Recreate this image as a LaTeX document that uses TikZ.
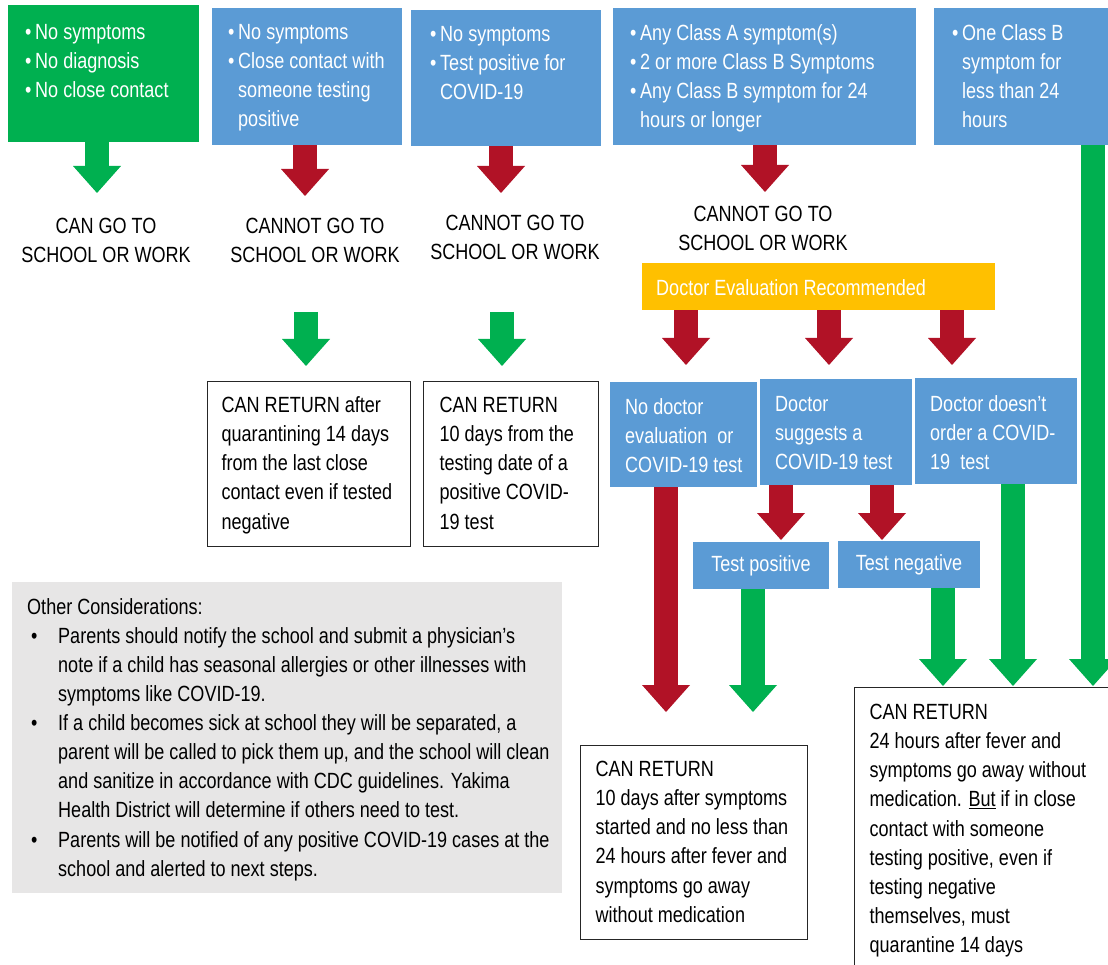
\documentclass[tikz,border=0pt]{standalone}
\usepackage{fontspec}
\setmainfont[FakeStretch=0.82]{Liberation Sans}
\usetikzlibrary{arrows.meta}

\definecolor{cblue}{HTML}{5B9BD5}
\definecolor{cgreen}{HTML}{00B050}
\definecolor{cred}{HTML}{B11226}
\definecolor{cyellow}{HTML}{FFC000}
\definecolor{cgray}{HTML}{E7E6E6}

\newcommand\mainfs{\fontsize{22}{29.1}\selectfont}
% width, height, top pad, left pad, lines
\newcommand\boxtxt[5]{\parbox[c][#2][t]{#1}{\vspace*{#3}\raggedright\setlength{\leftskip}{#4}\noindent\rule{0pt}{16pt}#5\par}}
\newcommand\bul{\makebox[10pt][l]{•}}
\newcommand\bulind{\hspace*{10pt}}
\newcommand\notebul{\makebox[31pt][l]{\hspace{4pt}•}}
\newcommand\noteind{\hspace*{31pt}}

\begin{document}
\begin{tikzpicture}
[
x=1pt, y=-1pt,
bluebox/.style={fill=cblue, text=white, inner sep=0pt, anchor=north west, font=\mainfs},
greenbox/.style={bluebox, fill=cgreen},
barbox/.style={bluebox, fill=cyellow},
testbox/.style={fill=cblue, text=white, inner sep=0pt, font=\mainfs},
returnbox/.style={draw=black!85, line width=1.3pt, fill=white, inner sep=0pt, anchor=north west, font=\mainfs},
notebox/.style={fill=cgray, inner sep=0pt, anchor=north west, font=\mainfs},
statustext/.style={align=center, inner sep=0pt, font=\mainfs},
greenarrow/.style={draw=cgreen, line width=24pt, -{Triangle[width=48pt, length=27pt, line width=0pt]}},
redarrow/.style={greenarrow, draw=cred},
]
\useasboundingbox (0,0) rectangle (1108,965);
\clip (0,0) rectangle (1108,965);

%Nodes
\node[greenbox] (nosym) at (8,5) {\boxtxt{191pt}{137pt}{18pt}{17pt}{\bul No symptoms\\\bul No diagnosis\\\bul No close contact}};
\node[bluebox] (contact) at (212,8) {\boxtxt{190pt}{137pt}{15pt}{16pt}{\bul No symptoms\\\bul Close contact with\\\bulind someone testing\\\bulind positive}};
\node[bluebox] (positive) at (411,10) {\boxtxt{190pt}{136pt}{15pt}{19pt}{\bul No symptoms\\\bul Test positive for\\\bulind COVID-19}};
\node[bluebox] (classa) at (613,8) {\boxtxt{303pt}{137pt}{16pt}{17pt}{\bul Any Class A symptom(s)\\\bul 2 or more Class B Symptoms\\\bul Any Class B symptom for 24\\\bulind hours or longer}};
\node[bluebox] (classb) at (934,8) {\boxtxt{180pt}{137pt}{16pt}{18pt}{\bul One Class B\\\bulind symptom for\\\bulind less than 24\\\bulind hours}};

\node[statustext] (cango) at (106,240.5) {CAN GO TO\\SCHOOL OR WORK};
\node[statustext] (cannot1) at (315,240.5) {CANNOT GO TO\\SCHOOL OR WORK};
\node[statustext] (cannot2) at (515,237) {CANNOT GO TO\\SCHOOL OR WORK};
\node[statustext] (cannot3) at (763,228) {CANNOT GO TO\\SCHOOL OR WORK};

\node[barbox] (docbar) at (642,263) {\boxtxt{353pt}{47pt}{16pt}{14pt}{Doctor Evaluation Recommended}};

\node[bluebox] (nodoc) at (610,382) {\boxtxt{147pt}{105pt}{16pt}{15pt}{No doctor\\evaluation\ \ or\\COVID-19 test}};
\node[bluebox] (docsug) at (760,379) {\boxtxt{152pt}{106pt}{16pt}{15pt}{Doctor\\suggests a\\COVID-19 test}};
\node[bluebox] (docno) at (915,378) {\boxtxt{162pt}{106pt}{17pt}{15pt}{Doctor doesn’t\\order a COVID-\\19\ \ test}};

\node[testbox, minimum width=136pt, minimum height=47pt] (testpos) at (761,565.5) {Test positive};
\node[testbox, minimum width=142pt, minimum height=47pt] (testneg) at (909,564.5) {Test negative};

\node[returnbox] (quar) at (207,381) {\boxtxt{203pt}{165pt}{15pt}{14pt}{CAN RETURN after\\quarantining 14 days\\from the last close\\contact even if tested\\negative}};
\node[returnbox] (tendays) at (423,381) {\boxtxt{175pt}{165pt}{15pt}{16pt}{CAN RETURN\\10 days from the\\testing date of a\\positive COVID-\\19 test}};
\node[returnbox] (symret) at (580,745) {\boxtxt{227pt}{194pt}{15pt}{15pt}{CAN RETURN\\10 days after symptoms\\started and no less than\\24 hours after fever and\\symptoms go away\\without medication}};
\node[returnbox] (feverret) at (854,687) {\boxtxt{270pt}{300pt}{16pt}{15pt}{CAN RETURN\\24 hours after fever and\\symptoms go away without\\medication. \underline{But} if in close\\contact with someone\\testing positive, even if\\testing negative\\themselves, must\\quarantine 14 days}};

\node[notebox] (notes) at (12,582) {\boxtxt{550pt}{311pt}{16pt}{15pt}{Other Considerations:\\
\notebul Parents should notify the school and submit a physician’s\\
\noteind note if a child has seasonal allergies or other illnesses with\\
\noteind symptoms like COVID-19.\\
\notebul If a child becomes sick at school they will be separated, a\\
\noteind parent will be called to pick them up, and the school will clean\\
\noteind and sanitize in accordance with CDC guidelines. Yakima\\
\noteind Health District will determine if others need to test.\\
\notebul Parents will be notified of any positive COVID-19 cases at the\\
\noteind school and alerted to next steps.}};

%Arrow tips
\coordinate (t1) at (97,193);
\coordinate (t2) at (305,196);
\coordinate (t3) at (501,193);
\coordinate (t4) at (765,192);
\coordinate (q1s) at (306,312);
\coordinate (q1) at (306,366);
\coordinate (q2s) at (502,312);
\coordinate (q2) at (502,366);
\coordinate (d1) at (686,365);
\coordinate (d2) at (829,365);
\coordinate (d3) at (952,365);
\coordinate (s1) at (781,540);
\coordinate (s2) at (882,540);
\coordinate (n1) at (666,712);
\coordinate (p1) at (753,712);
\coordinate (g1) at (943,686);
\coordinate (g2) at (1013,686);
\coordinate (g3) at (1093,686);

%Lines
\draw[greenarrow] (nosym.south -| t1) -- (t1);
\draw[redarrow] (contact.south -| t2) -- (t2);
\draw[redarrow] (positive.south -| t3) -- (t3);
\draw[redarrow] (classa.south -| t4) -- (t4);
\draw[greenarrow] (q1s) -- (q1);
\draw[greenarrow] (q2s) -- (q2);
\draw[redarrow] (docbar.south -| d1) -- (d1);
\draw[redarrow] (docbar.south -| d2) -- (d2);
\draw[redarrow] (docbar.south -| d3) -- (d3);
\draw[redarrow] (docsug.south -| s1) -- (s1);
\draw[redarrow] (docsug.south -| s2) -- (s2);
\draw[redarrow] (nodoc.south -| n1) -- (n1);
\draw[greenarrow] (testpos.south -| p1) -- (p1);
\draw[greenarrow] (testneg.south -| g1) -- (g1);
\draw[greenarrow] (docno.south -| g2) -- (g2);
\draw[greenarrow] (classb.south -| g3) -- (g3);
\end{tikzpicture}
\end{document}
